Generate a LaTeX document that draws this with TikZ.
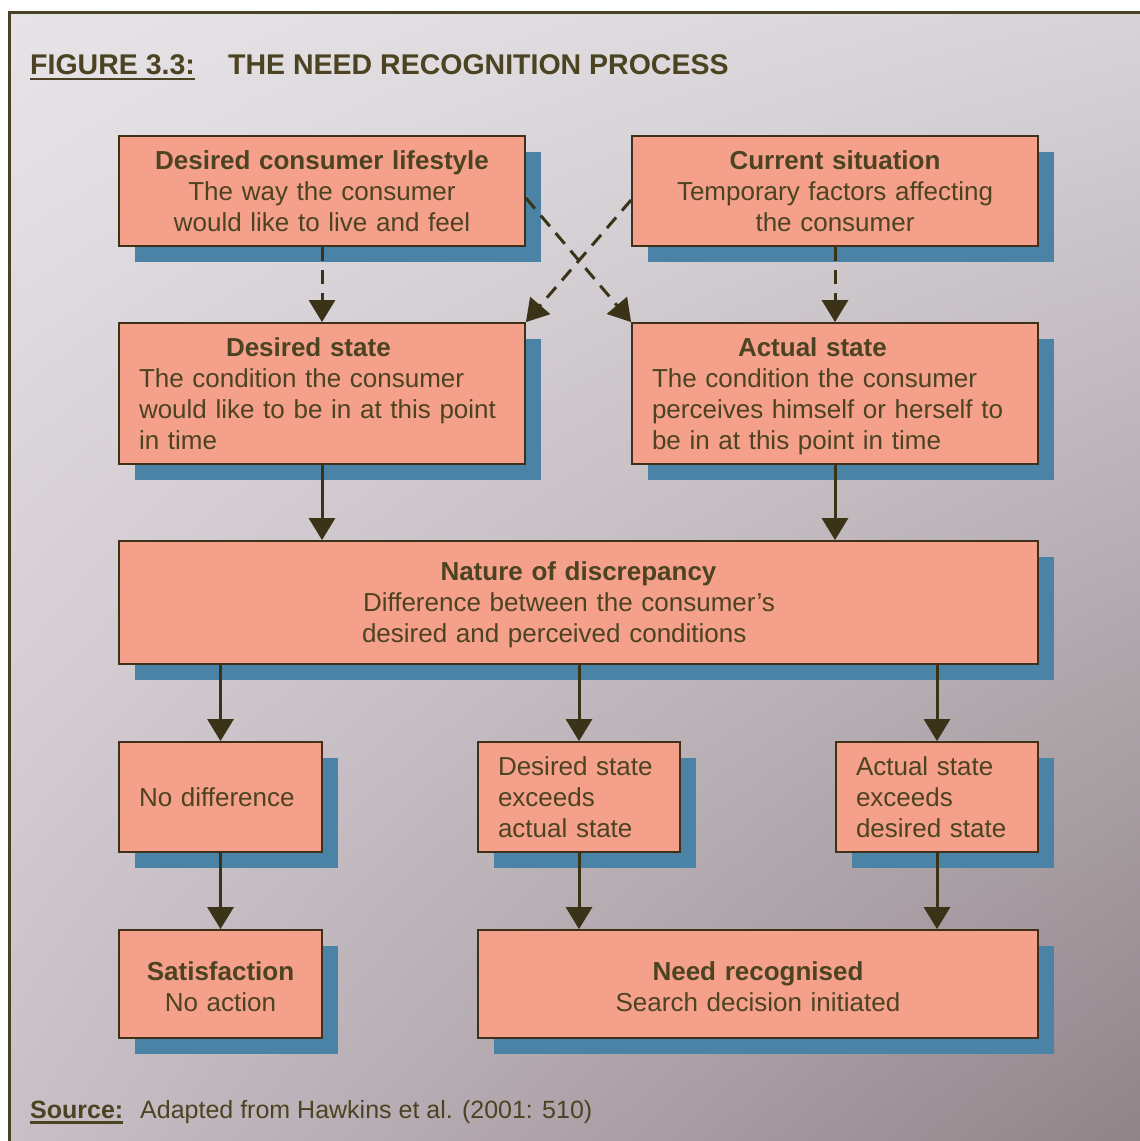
\documentclass[tikz,border=0pt]{standalone}
\usepackage{fontspec}
\setmainfont{Liberation Sans}
\usetikzlibrary{arrows.meta,shadows,shadings}

\definecolor{ink}{HTML}{4B4321}
\definecolor{edge}{HTML}{3E3019}
\definecolor{salmon}{HTML}{F4A08B}
\definecolor{shadowblue}{HTML}{4A83A6}
\definecolor{arrowink}{HTML}{3A3318}
\definecolor{frameink}{HTML}{4A4226}
\definecolor{bgUL}{HTML}{E7E4E8}
\definecolor{bgUR}{HTML}{D7D3D7}
\definecolor{bgLL}{HTML}{C9BFC7}
\definecolor{bgLR}{HTML}{908489}

\begin{document}
\begin{tikzpicture}[x=1pt,y=-1pt,
  card/.style={rectangle, draw=edge, line width=1.8pt, fill=salmon,
    inner sep=0pt, text=ink, font=\fontsize{26}{31}\selectfont,
    drop shadow={shadow xshift=16pt, shadow yshift=-16pt, opacity=1, fill=shadowblue}},
  flow/.style={draw=arrowink, line width=3pt,
    -{Triangle[length=22pt,width=26pt]}},
  dflow/.style={flow, dash pattern=on 14pt off 9pt},
  caption/.style={anchor=base west, inner sep=0pt, text=ink}
]
% page and framed, shaded panel
\useasboundingbox (0,0) rectangle (1140,1141);
\fill[white] (0,0) rectangle (1140,1141);
\shade[upper left=bgUL, upper right=bgUR, lower left=bgLL, lower right=bgLR]
  (9,12) rectangle (1140,1141);
\draw[frameink, line width=3pt] (9,1141) -- (9,12) -- (1140,12);

% heading
\node[caption, font=\bfseries\fontsize{28.5}{34}\selectfont] (fig) at (30,74) {FIGURE 3.3:};
\node[caption, font=\bfseries\fontsize{28.5}{34}\selectfont] (title) at (228,74) {THE NEED RECOGNITION PROCESS};
\draw[ink, line width=2.5pt] ([yshift=-5pt]fig.base west) -- ([yshift=-5pt]fig.base east);

% top row
\node[card, minimum width=406, minimum height=110, text width=406, align=center] (life) at (322,191)
  {\textbf{Desired consumer lifestyle}\\The way the consumer\\would like to live and feel};
\node[card, minimum width=406, minimum height=110, text width=406, align=center] (cur) at (835,191)
  {\textbf{Current situation}\\Temporary factors affecting\\the consumer};

% states
\node[card, minimum width=406, minimum height=141, text width=366, align=left] (dstate) at (322,393.5)
  {\hspace*{87pt}\textbf{Desired state}\\The condition the consumer\\would like to be in at this point\\in time};
\node[card, minimum width=406, minimum height=141, text width=366, align=left] (astate) at (835,393.5)
  {\hspace*{86pt}\textbf{Actual state}\\The condition the consumer\\perceives himself or herself to\\\smash{be in at this point in time}};

% discrepancy
\node[card, minimum width=919, minimum height=123, text width=919, align=left] (disc) at (578.5,602.5)
  {\makebox[919pt]{\textbf{Nature of discrepancy}}\\\hspace*{244pt}Difference between the consumer's\\\hspace*{243pt}\smash{desired and perceived conditions}};

% outcomes
\node[card, minimum width=203, minimum height=110, text width=163, align=left] (nodiff) at (220.5,797)
  {No difference};
\node[card, minimum width=202, minimum height=110, text width=162, align=left] (dexc) at (579,797)
  {Desired state\\exceeds\\actual state};
\node[card, minimum width=202, minimum height=110, text width=162, align=left] (aexc) at (937,797)
  {Actual state\\exceeds\\desired state};

% results
\node[card, minimum width=203, minimum height=108, text width=203, align=center] (satis) at (220.5,984)
  {\rule{0pt}{23.5pt}\textbf{Satisfaction}\\No action};
\node[card, minimum width=560, minimum height=108, text width=560, align=center] (need) at (758,984)
  {\rule{0pt}{23.5pt}\textbf{Need recognised}\\Search decision initiated};

% dashed influences
\draw[dflow] (life) -- (dstate);
\draw[dflow] (cur) -- (astate);
\draw[dflow] ([yshift=-7pt]life.east) -- (astate.north west);
\draw[dflow] ([yshift=-9pt]cur.west) -- (dstate.north east);

% solid flow
\draw[flow] (dstate.south) -- (dstate.south |- disc.north);
\draw[flow] (astate.south) -- (astate.south |- disc.north);
\draw[flow] (nodiff.north |- disc.south) -- (nodiff.north);
\draw[flow] (dexc.north |- disc.south) -- (dexc.north);
\draw[flow] (aexc.north |- disc.south) -- (aexc.north);
\draw[flow] (nodiff) -- (satis);
\draw[flow] (dexc.south) -- (dexc.south |- need.north);
\draw[flow] (aexc.south) -- (aexc.south |- need.north);

% source line
\node[caption, font=\bfseries\fontsize{25}{30}\selectfont] (src) at (30,1118) {Source:};
\draw[ink, line width=2.2pt] ([yshift=-4.5pt]src.base west) -- ([yshift=-4.5pt]src.base east);
\node[caption, font=\fontsize{25}{30}\selectfont] (ref) at (140,1118) {Adapted from Hawkins et al. (2001: 510)};
\end{tikzpicture}
\end{document}
